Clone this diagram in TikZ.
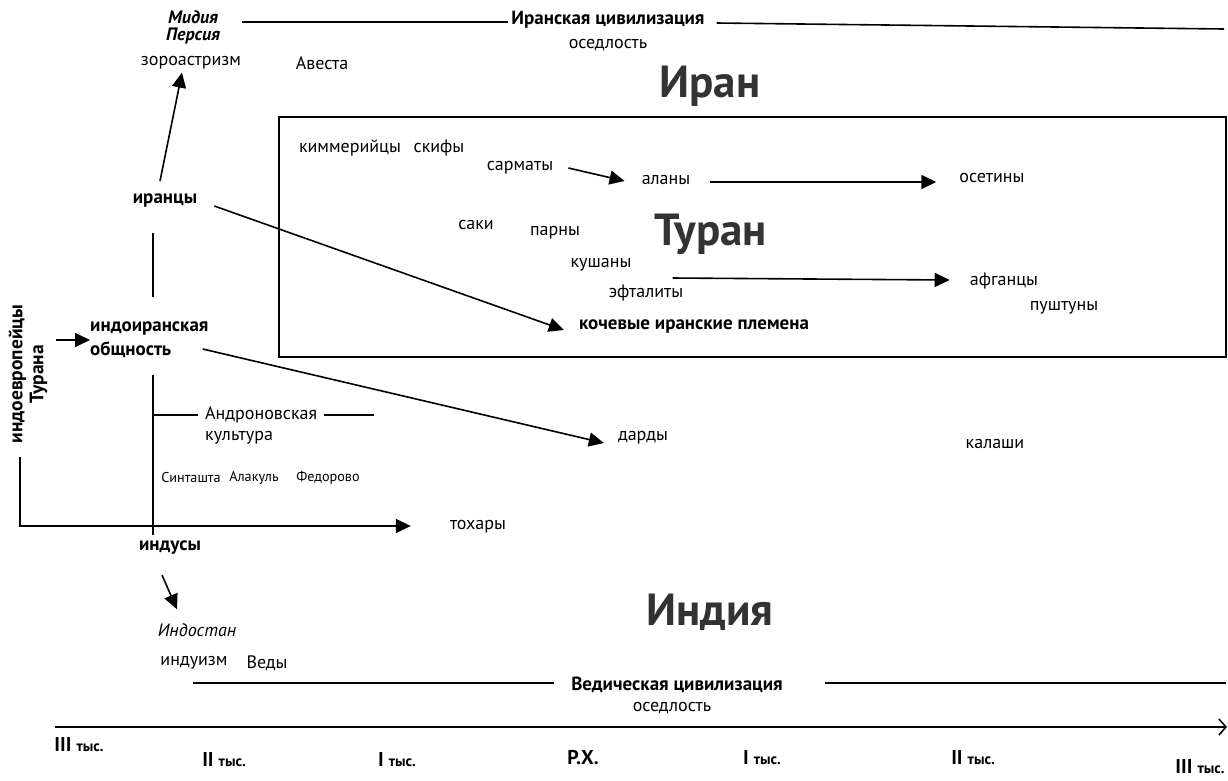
\documentclass[tikz,border=0pt]{standalone}
\usepackage{fontspec}
\setmainfont{PT Sans}
\usetikzlibrary{arrows.meta}
% smaller type for the "тыс." after the Roman numerals
\newcommand\thsfont{\fontsize{15}{16}\selectfont}
\begin{document}
\begin{tikzpicture}[x=1pt,y=-1pt,
  lbl/.style={inner sep=0pt, font=\fontsize{18}{20}\selectfont},
  blbl/.style={inner sep=0pt, font=\fontsize{19}{21}\selectfont\bfseries},
  slbl/.style={inner sep=0pt, font=\fontsize{14.2}{16}\selectfont},
  ilbl/.style={inner sep=0pt, font=\fontsize{18}{20}\selectfont\itshape},
  bilbl/.style={inner sep=0pt, font=\fontsize{18}{20}\selectfont\bfseries\itshape},
  region/.style={inner sep=0pt, anchor=base, text=black!80, font=\fontsize{45}{48}\selectfont\bfseries},
  tick/.style={inner sep=0pt, font=\fontsize{20}{22}\selectfont\bfseries},
  rule/.style={line width=1.6pt},
  arr/.style={line width=1.6pt, -{Triangle[length=15pt,width=14pt]}},
]
\useasboundingbox (0,0) rectangle (1228,780);

% ---- Iran: civilisation header ----
\node[bilbl] (midia) at (193,17) {Мидия};
\node[bilbl] (persia) at (193,36) {Персия};
\node[blbl] (irciv) at (608,20) {Иранская цивилизация};
\node[lbl] (osed1) at (608,45) {оседлость};
\coordinate (irl) at (242,22);
\coordinate (irr) at (1224,29);
\draw[rule] (irl) -- ([xshift=-3pt,yshift=-2pt]irciv.west);
\draw[rule] ([xshift=12pt,yshift=-3pt]irciv.east) -- (irr);
\node[lbl] (zoro) at (191,63) {зороастризм};
\node[lbl] (avesta) at (322,63) {Авеста};
\node[region] (iran) at (710,97) {Иран};

% ---- Turan frame ----
\draw[line width=1.4pt] (279,117) rectangle (1226,357);
\node[lbl] (kimm) at (350,148) {киммерийцы};
\node[lbl] (skif) at (439,148) {скифы};
\node[lbl] (sarm) at (520,168) {сарматы};
\node[lbl] (alan) at (666,180) {аланы};
\node[lbl] (oset) at (992,178) {осетины};
\node[lbl] (saki) at (476,225) {саки};
\node[lbl] (parn) at (555,233) {парны};
\node[region] (turan) at (711,245) {Туран};
\node[lbl] (kush) at (601,265) {кушаны};
\node[lbl] (eftal) at (646,293) {эфталиты};
\node[blbl] (nomad) at (694,327) {кочевые иранские племена};
\node[lbl] (afgh) at (1004,281) {афганцы};
\node[lbl] (pusht) at (1064,308) {пуштуны};

\draw[arr] ([xshift=15pt]sarm.east) -- ([xshift=-17pt,yshift=-1pt]alan.west);
\draw[arr] ([xshift=20pt,yshift=-2pt]alan.east) -- ([xshift=-23pt,yshift=-4pt]oset.west);
\draw[arr] ([xshift=41pt,yshift=-13pt]kush.east) -- ([xshift=-20pt,yshift=1pt]afgh.west);

% ---- Indo-Iranian stem ----
\node[blbl] (iranians) at (165,201) {иранцы};
\node[blbl, anchor=west, align=left, font=\fontsize{19}{24}\selectfont\bfseries] (indoir) at (90,340) {индоиранская\\общность};
\node[blbl, rotate=90, align=center, font=\fontsize{19.5}{21}\selectfont\bfseries] (indoeu) at (28,374) {индоевропейцы\\Турана};
\node[lbl, anchor=west] (andr) at (205,415) {Андроновская};
\node[lbl, anchor=west] (kult) at (205,438) {культура};
\node[slbl] (sint) at (191,478) {Синташта};
\node[slbl] (alak) at (254,478) {Алакуль};
\node[slbl] (fedo) at (328,478) {Федорово};
\node[lbl] (dard) at (643,438) {дарды};
\node[lbl] (kalash) at (995,444) {калаши};
\node[lbl] (toch) at (478,527) {тохары};
\node[blbl] (indus) at (170,548) {индусы};

\coordinate (sp1) at (153,233);
\coordinate (sp2) at (153,297);
\coordinate (sp3) at (153,375);
\coordinate (sp4) at (153,535);
\draw[rule] (sp1) -- (sp2);
\draw[rule] (sp3) -- (sp4);
\draw[rule] (sp3 |- andr.west) -- ([xshift=-7pt]andr.west);
\draw[rule] ([xshift=7pt]andr.east) -- ++(50,0);

\draw[arr] ([xshift=-5pt,yshift=13pt]iranians.north) -- ([xshift=-9pt,yshift=-3pt]zoro.south);
\draw[arr] ([xshift=17pt,yshift=-5pt]iranians.east) -- ([xshift=-15pt,yshift=-3pt]nomad.west);
\draw[arr] ([xshift=-6pt,yshift=-9pt]indoir.east) -- ([xshift=-14pt,yshift=-5pt]dard.west);
\draw[arr, shorten <=8pt] (indoeu.south |- indoir.west) -- (indoir.west);
\draw[arr] ([xshift=-8pt,yshift=-13pt]indoeu.west) |- ([xshift=-39pt,yshift=1pt]toch.west);

% ---- India ----
\node[ilbl] (indostan) at (197,630) {Индостан};
\node[lbl] (hindu) at (194,663) {индуизм};
\node[lbl] (vedy) at (267,663) {Веды};
\node[region] (india) at (710,625) {Индия};
\node[blbl] (vedciv) at (677,685) {Ведическая цивилизация};
\node[lbl] (osed2) at (672,708) {оседлость};
\draw[arr] ([xshift=-8pt,yshift=-20pt]indus.south) -- ([xshift=-20pt,yshift=14pt]indostan.north);
\coordinate (vl) at (193,683);
\coordinate (vr) at (1226,683);
\draw[rule] (vl) -- ([xshift=-17pt,yshift=2pt]vedciv.west);
\draw[rule] ([xshift=42pt,yshift=2pt]vedciv.east) -- (vr);

% ---- time axis ----
\coordinate (ax0) at (55,727);
\coordinate (ax1) at (1227,727);
\draw[line width=1.6pt, -{Straight Barb[length=7pt,width=16pt,line width=1.6pt]}] (ax0) -- (ax1);
\node[tick] (t1) at (79,745) {III {\thsfont тыс.}};
\node[tick] (t2) at (224,760) {II {\thsfont тыс.}};
\node[tick] (t3) at (397,760) {I {\thsfont тыс.}};
\node[tick] (t4) at (583,757) {Р.Х.};
\node[tick] (t5) at (762,758) {I {\thsfont тыс.}};
\node[tick] (t6) at (973,758) {II {\thsfont тыс.}};
\node[tick] (t7) at (1200,767) {III {\thsfont тыс.}};
\end{tikzpicture}
\end{document}
